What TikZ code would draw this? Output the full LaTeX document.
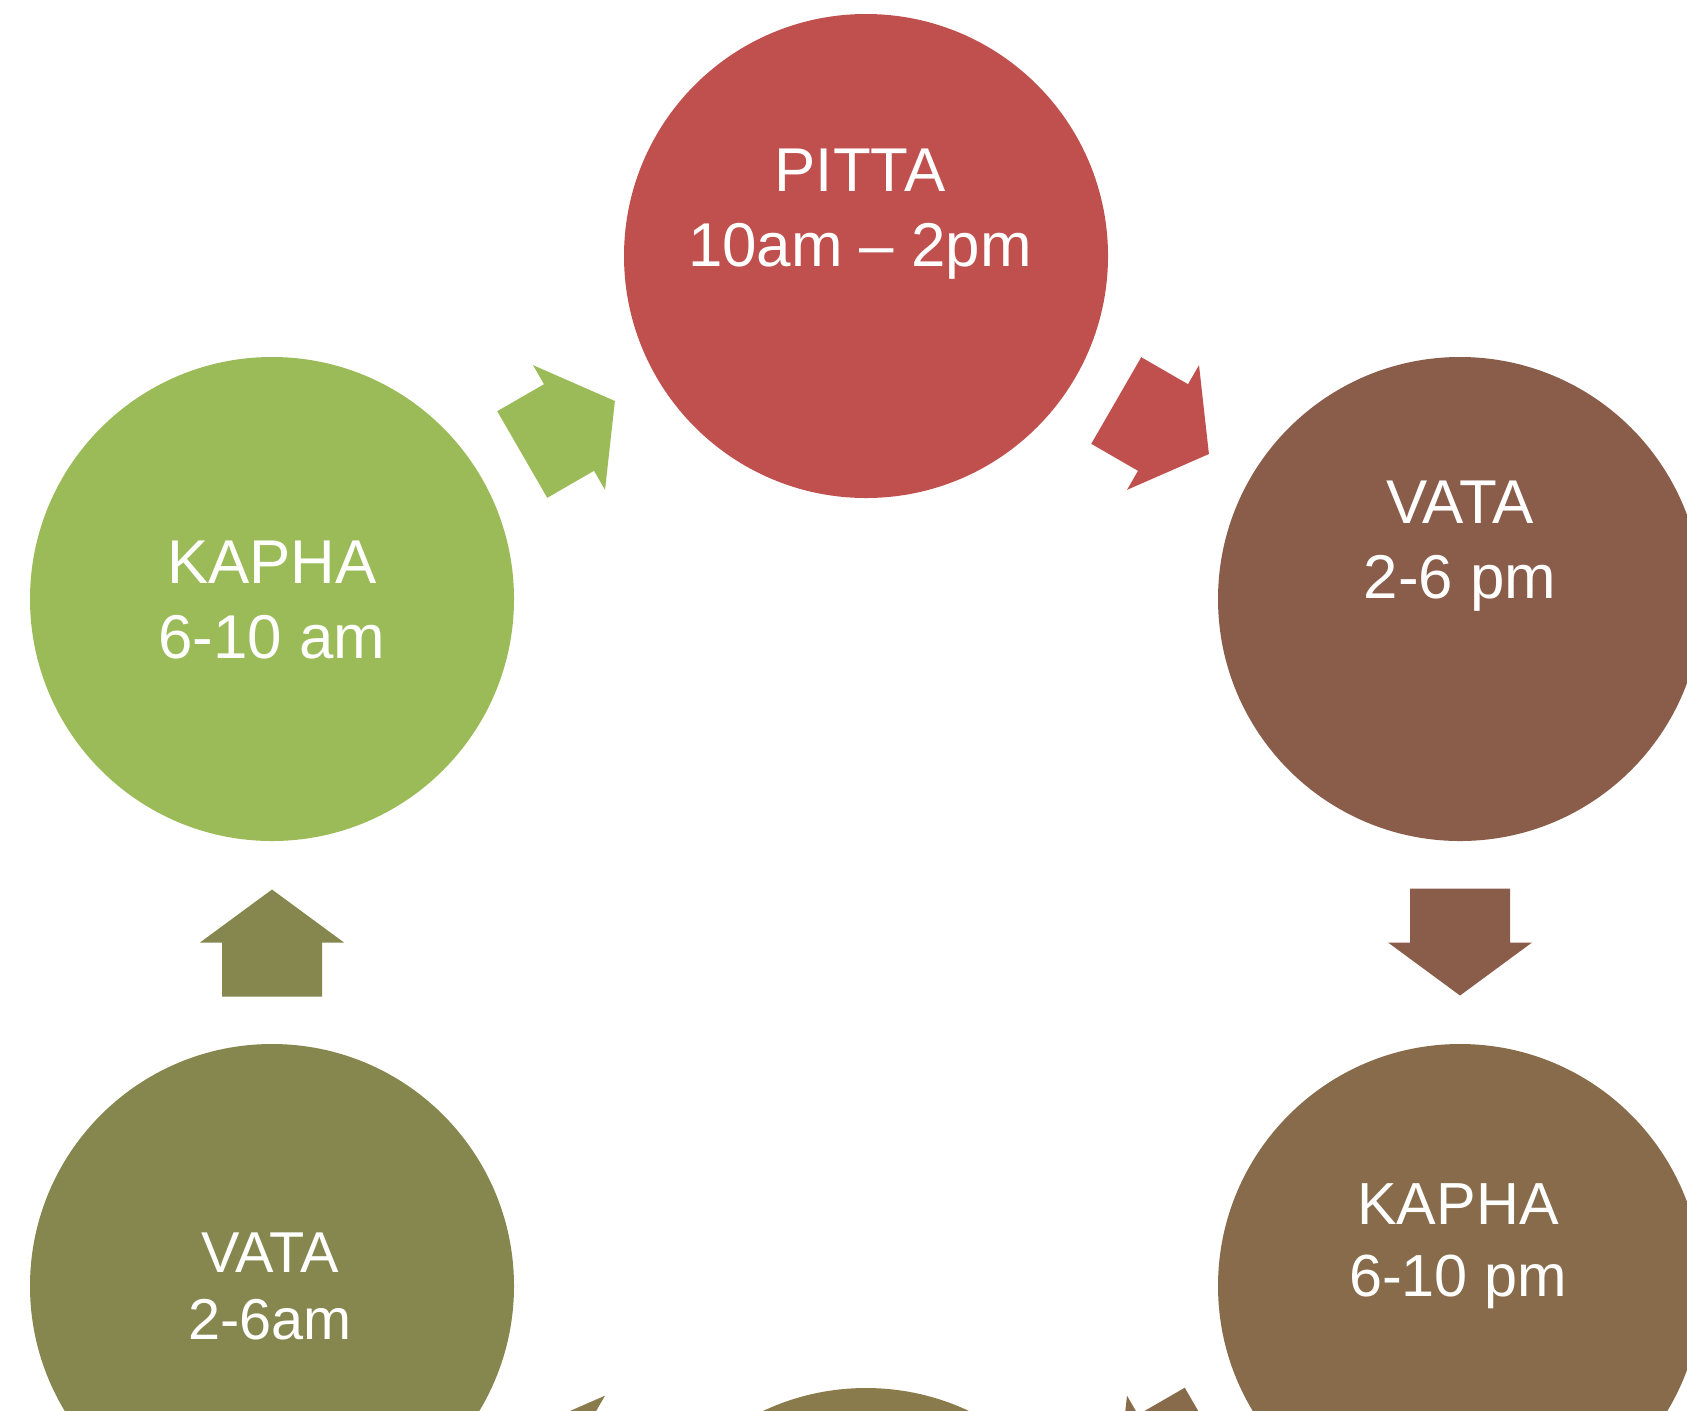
\documentclass[tikz,border=0pt]{standalone}
\usepackage{fontspec}
\setmainfont{Liberation Sans}
\usepackage{tikz}
\usetikzlibrary{calc}

\definecolor{pittared}{HTML}{C0504D}
\definecolor{vatabrown}{HTML}{8A5C4A}
\definecolor{kaphagreen}{HTML}{9BBB59}
\definecolor{vataolive}{HTML}{86874F}
\definecolor{kaphabrown}{HTML}{876B4A}
\definecolor{pittaolive}{HTML}{897B4B}

\tikzset{
  dosha/.style={circle, minimum size=4.84cm, inner sep=0pt},
  doshatext/.style={text=white, align=center, anchor=north, inner sep=0pt, font=\fontsize{17.6}{21.3}\selectfont},
}
% block arrow: colour, centre, angle
\newcommand{\cyclearrow}[3]{%
  \fill[#1, shift={#2}, rotate=#3] (-0.54,-0.50) -- (0,-0.50) -- (0,-0.72) -- (0.53,0) -- (0,0.72) -- (0,0.50) -- (-0.54,0.50) -- cycle;}

\begin{document}
\begin{tikzpicture}
\useasboundingbox (0,0) rectangle (16.87,14.10);
\clip (0,0) rectangle (16.87,14.10);
% Dosha circles
\node[dosha, fill=pittared] (pitta) at (8.66,11.54) {};
\node[dosha, fill=vatabrown] (vatapm) at (14.60,8.11) {};
\node[dosha, fill=kaphabrown] (kaphapm) at (14.60,1.24) {};
\node[dosha, fill=pittaolive] (pittanight) at (8.66,-2.20) {};
\node[dosha, fill=vataolive] (vataam) at (2.72,1.24) {};
\node[dosha, fill=kaphagreen] (kaphaam) at (2.72,8.11) {};
% Labels
\node[doshatext] (pittalbl) at (8.60,12.62) {PITTA\\10am -- 2pm};
\node[doshatext] (vatapmlbl) at (14.60,9.30) {VATA\\2-6 pm};
\node[doshatext] (kaphaamlbl) at (2.72,8.70) {KAPHA\\6-10 am};
\node[doshatext, font=\fontsize{16.4}{19.1}\selectfont] (vataamlbl) at (2.70,1.78) {VATA\\2-6am};
\node[doshatext, font=\fontsize{16.9}{20.5}\selectfont] (kaphapmlbl) at (14.58,2.27) {KAPHA\\6-10 pm};
% Cycle arrows
\cyclearrow{kaphagreen}{($(kaphaam)!0.5!(pitta)$)}{30}
\cyclearrow{pittared}{($(pitta)!0.5!(vatapm)$)}{-30}
\cyclearrow{vatabrown}{($(vatapm)!0.5!(kaphapm)$)}{-90}
\cyclearrow{kaphabrown}{($(kaphapm)!0.5!(pittanight)$)}{-150}
\cyclearrow{pittaolive}{($(pittanight)!0.5!(vataam)$)}{150}
\cyclearrow{vataolive}{($(vataam)!0.5!(kaphaam)$)}{90}
\end{tikzpicture}
\end{document}
